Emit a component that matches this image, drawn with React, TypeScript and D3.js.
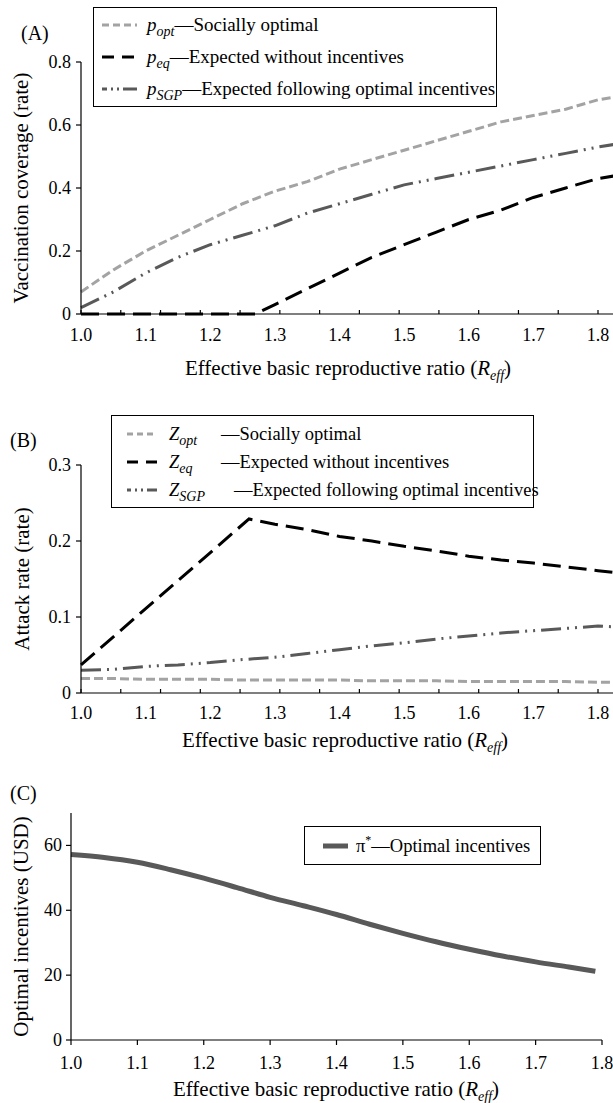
import * as d3 from 'd3'

// ---- data ----
// panel A: vaccination coverage
const rA = [1.0, 1.05, 1.1, 1.15, 1.2, 1.25, 1.3, 1.35, 1.4, 1.45, 1.5, 1.55, 1.6, 1.65, 1.7, 1.75, 1.8, 1.83]
const pOpt = [0.07, 0.14, 0.2, 0.25, 0.3, 0.35, 0.39, 0.42, 0.46, 0.49, 0.52, 0.55, 0.58, 0.61, 0.63, 0.65, 0.68, 0.69]
const pSgp = [0.02, 0.07, 0.13, 0.18, 0.22, 0.25, 0.28, 0.32, 0.35, 0.38, 0.41, 0.43, 0.45, 0.47, 0.49, 0.51, 0.53, 0.54]
const rEqA = [1.0, 1.27, 1.3, 1.35, 1.4, 1.45, 1.5, 1.55, 1.6, 1.65, 1.7, 1.75, 1.8, 1.83]
const pEq = [0, 0, 0.03, 0.08, 0.13, 0.18, 0.22, 0.26, 0.3, 0.33, 0.37, 0.4, 0.43, 0.44]

// panel B: attack rate
const zOpt = [0.019, 0.019, 0.018, 0.018, 0.018, 0.017, 0.017, 0.017, 0.017, 0.016, 0.016, 0.016, 0.015, 0.015, 0.015, 0.015, 0.014, 0.014]
const zSgp = [0.03, 0.031, 0.035, 0.037, 0.04, 0.044, 0.047, 0.052, 0.057, 0.062, 0.066, 0.071, 0.075, 0.079, 0.082, 0.085, 0.088, 0.087]
const rEqB = [1.0, 1.26, 1.3, 1.35, 1.4, 1.45, 1.5, 1.55, 1.6, 1.65, 1.7, 1.75, 1.8, 1.83]
const zEq = [0.037, 0.229, 0.222, 0.215, 0.206, 0.2, 0.193, 0.187, 0.18, 0.175, 0.171, 0.166, 0.161, 0.158]

// panel C: optimal incentives
const rC = [1.0, 1.05, 1.1, 1.15, 1.2, 1.25, 1.3, 1.35, 1.4, 1.45, 1.5, 1.55, 1.6, 1.65, 1.7, 1.75, 1.79]
const incentives = [57.2, 56.3, 54.8, 52.5, 49.9, 47.0, 44.0, 41.4, 38.7, 35.7, 32.9, 30.3, 28.0, 25.9, 24.1, 22.5, 21.2]

const xLabels = ['1.0', '1.1', '1.2', '1.3', '1.4', '1.5', '1.6', '1.7', '1.8']
const yTicksA = [0, 0.2, 0.4, 0.6, 0.8]
const yLabelsA = ['0', '0.2', '0.4', '0.6', '0.8']
const yTicksB = [0, 0.1, 0.2, 0.3]
const yLabelsB = ['0', '0.1', '0.2', '0.3']
const yTicksC = [0, 20, 40, 60]

const FONT = "'Liberation Serif', 'Times New Roman', 'DejaVu Serif', serif"
const LIGHT = '#a3a3a3'
const DARK = '#595959'

const optStyle = { stroke: LIGHT, dash: '9 4' }
const eqStyle = { stroke: '#000', dash: '18 8' }
const sgpStyle = { stroke: DARK, dash: '20 6 2 6 2 6' }

const zip = (xs, ys) => xs.map((v, i) => [v, ys[i]])

// Effective basic reproductive ratio (R_eff)
function XTitle ({ x, y }) {
    return (
        <text x={x} y={y} textAnchor='middle' fontSize={21}>
            Effective basic reproductive ratio (<tspan fontStyle='italic'>R</tspan>
            <tspan fontStyle='italic' fontSize={14} dy={5}>eff</tspan>
            <tspan dy={-5}>)</tspan>
        </text>
    )
}

export default function App () {
    const W = 613
    const H = 1103

    // A and B share the same x layout, ticks are not aligned with the labels
    const x = d3.scaleLinear().domain([1, 1.8]).range([81, 598])
    const innerTicks = d3.range(14).map(i => 1 + (i * 0.8) / 13)
    const yA = d3.scaleLinear().domain([0, 0.8]).range([314, 62])
    const yB = d3.scaleLinear().domain([0, 0.3]).range([693, 465])

    const xC = d3.scaleLinear().domain([1, 1.8]).range([71, 602])
    const yC = d3.scaleLinear().domain([0, 70]).range([1040, 813])

    const lineA = d3.line().x(d => x(d[0])).y(d => yA(d[1]))
    const lineB = d3.line().x(d => x(d[0])).y(d => yB(d[1]))
    const lineC = d3.line().x(d => xC(d[0])).y(d => yC(d[1])).curve(d3.curveMonotoneX)

    const sub = (s) => <tspan fontStyle='italic' fontSize={14} dy={5}>{s}</tspan>

    return (
        <svg width={W} height={H} style={{ position: 'absolute', left: 0, top: 0, fontFamily: FONT }}
            fill='#000'>
            <rect width={W} height={H} fill='#fff' />

            {/* ---------- (A) ---------- */}
            <text x={21} y={40} fontSize={20}>(A)</text>
            <g fill='none' strokeWidth={3}>
                <path d={lineA(zip(rA, pOpt))} stroke={optStyle.stroke} strokeDasharray={optStyle.dash} />
                <path d={lineA(zip(rA, pSgp))} stroke={sgpStyle.stroke} strokeDasharray={sgpStyle.dash} />
                <path d={lineA(zip(rEqA, pEq))} stroke={eqStyle.stroke} strokeDasharray={eqStyle.dash} />
            </g>
            <g stroke='#000' strokeWidth={1.2}>
                <line x1={81} x2={81} y1={yA(0.8)} y2={yA(0)} />
                <line x1={81} x2={W} y1={yA(0)} y2={yA(0)} />
                {yTicksA.map(t => <line key={t} x1={76} x2={81} y1={yA(t)} y2={yA(t)} />)}
                {innerTicks.map((t, i) => <line key={i} x1={x(t)} x2={x(t)} y1={yA(0)} y2={yA(0) - 4} />)}
            </g>
            {yTicksA.map((t, i) => (
                <text key={t} x={71} y={yA(t) + 6} textAnchor='end' fontSize={18}>{yLabelsA[i]}</text>
            ))}
            {xLabels.map((l, i) => (
                <text key={l} x={x(1 + i / 10)} y={341} textAnchor='middle' fontSize={18}>{l}</text>
            ))}
            <XTitle x={348} y={375} />
            <text transform={`translate(28,${(yA(0) + yA(0.8)) / 2}) rotate(-90)`} textAnchor='middle' fontSize={21}>
                Vaccination coverage (rate)
            </text>

            <rect x={93.5} y={7.5} width={403} height={99} fill='#fff' stroke='#000' strokeWidth={1} />
            <g strokeWidth={3}>
                <line x1={102} x2={137} y1={25} y2={25} stroke={LIGHT} strokeDasharray='7 4' />
                <line x1={102} x2={137} y1={57} y2={57} stroke='#000' strokeDasharray='12 8' />
                <line x1={102} x2={137} y1={89} y2={89} stroke={DARK} strokeDasharray='5 4 2 4 2 4 14' />
            </g>
            <text x={147} y={31} fontSize={19}>
                <tspan fontStyle='italic'>p</tspan>{sub('opt')}<tspan dy={-5}>—Socially optimal</tspan>
            </text>
            <text x={147} y={63} fontSize={19}>
                <tspan fontStyle='italic'>p</tspan>{sub('eq')}<tspan dy={-5}>—Expected without incentives</tspan>
            </text>
            <text x={147} y={95} fontSize={19}>
                <tspan fontStyle='italic'>p</tspan>{sub('SGP')}<tspan dy={-5}>—Expected following optimal incentives</tspan>
            </text>

            {/* ---------- (B) ---------- */}
            <text x={10} y={447} fontSize={20}>(B)</text>
            <g fill='none' strokeWidth={3}>
                <path d={lineB(zip(rA, zOpt))} stroke={optStyle.stroke} strokeDasharray={optStyle.dash} />
                <path d={lineB(zip(rA, zSgp))} stroke={sgpStyle.stroke} strokeDasharray={sgpStyle.dash} />
                <path d={lineB(zip(rEqB, zEq))} stroke={eqStyle.stroke} strokeDasharray={eqStyle.dash} />
            </g>
            <g stroke='#000' strokeWidth={1.2}>
                <line x1={81} x2={81} y1={yB(0.3)} y2={yB(0)} />
                <line x1={81} x2={W} y1={yB(0)} y2={yB(0)} />
                {yTicksB.map(t => <line key={t} x1={76} x2={81} y1={yB(t)} y2={yB(t)} />)}
                {innerTicks.map((t, i) => <line key={i} x1={x(t)} x2={x(t)} y1={yB(0)} y2={yB(0) - 4} />)}
            </g>
            {yTicksB.map((t, i) => (
                <text key={t} x={71} y={yB(t) + 6} textAnchor='end' fontSize={18}>{yLabelsB[i]}</text>
            ))}
            {xLabels.map((l, i) => (
                <text key={l} x={x(1 + i / 10)} y={719} textAnchor='middle' fontSize={18}>{l}</text>
            ))}
            <XTitle x={345} y={747} />
            <text transform={`translate(29,${(yB(0) + yB(0.3)) / 2}) rotate(-90)`} textAnchor='middle' fontSize={21}>
                Attack rate (rate)
            </text>

            <rect x={111.5} y={415.5} width={422} height={92} fill='#fff' stroke='#000' strokeWidth={1} />
            <g strokeWidth={3}>
                <line x1={127} x2={157} y1={434} y2={434} stroke={LIGHT} strokeDasharray='6 4' />
                <line x1={127} x2={157} y1={462} y2={462} stroke='#000' strokeDasharray='11 8' />
                <line x1={127} x2={157} y1={490} y2={490} stroke={DARK} strokeDasharray='4 4 2 4 2 4 12' />
            </g>
            <text x={169} y={440} fontSize={18.5}><tspan fontStyle='italic'>Z</tspan>{sub('opt')}</text>
            <text x={221} y={440} fontSize={18.5}>—Socially optimal</text>
            <text x={169} y={468} fontSize={18.5}><tspan fontStyle='italic'>Z</tspan>{sub('eq')}</text>
            <text x={221} y={468} fontSize={18.5}>—Expected without incentives</text>
            <text x={169} y={496} fontSize={18.5}><tspan fontStyle='italic'>Z</tspan>{sub('SGP')}</text>
            <text x={234} y={496} fontSize={18.5}>—Expected following optimal incentives</text>

            {/* ---------- (C) ---------- */}
            <text x={10} y={800} fontSize={20}>(C)</text>
            <path d={lineC(zip(rC, incentives))} fill='none' stroke={DARK} strokeWidth={5} />
            <g stroke='#000' strokeWidth={1.2}>
                <line x1={71} x2={71} y1={yC(70)} y2={yC(0)} />
                <line x1={71} x2={xC(1.8)} y1={yC(0)} y2={yC(0)} />
                {yTicksC.map(t => <line key={t} x1={66} x2={71} y1={yC(t)} y2={yC(t)} />)}
                {xLabels.map((l, i) => (
                    <line key={l} x1={xC(1 + i / 10)} x2={xC(1 + i / 10)} y1={yC(0)} y2={yC(0) + 5} />
                ))}
            </g>
            {yTicksC.map(t => (
                <text key={t} x={62} y={yC(t) + 6} textAnchor='end' fontSize={18}>{t}</text>
            ))}
            {xLabels.map((l, i) => (
                <text key={l} x={xC(1 + i / 10)} y={1069} textAnchor='middle' fontSize={18}>{l}</text>
            ))}
            <XTitle x={336} y={1096} />
            <text transform={`translate(28,${(yC(0) + yC(70)) / 2}) rotate(-90)`} textAnchor='middle' fontSize={21}>
                Optimal incentives (USD)
            </text>

            <rect x={304.5} y={826.5} width={236} height={38} fill='#fff' stroke='#000' strokeWidth={1} />
            <line x1={323} x2={348} y1={846} y2={846} stroke={DARK} strokeWidth={5} />
            <text x={356} y={852} fontSize={18.5}>
                π<tspan fontSize={12} dy={-8}>*</tspan><tspan dy={8}>—Optimal incentives</tspan>
            </text>
        </svg>
    )
}
